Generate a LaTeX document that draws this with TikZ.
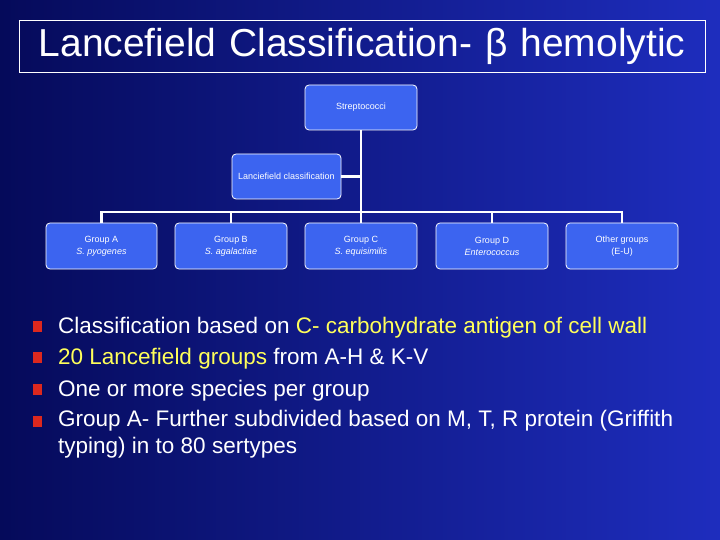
\documentclass[tikz,border=0pt]{standalone}
\usepackage{fontspec}
\setmainfont{Liberation Sans}
\definecolor{bgdark}{RGB}{5,10,90}
\definecolor{bglight}{RGB}{30,45,190}
\definecolor{boxblue}{RGB}{60,100,240}
\definecolor{bulred}{RGB}{220,40,30}
\definecolor{hiyel}{RGB}{255,255,90}
\begin{document}
\begin{tikzpicture}[x=1pt,y=-1pt,
  orgbox/.style={draw=white,line width=0.8pt,fill=boxblue,rounded corners=4pt,text=white,font=\fontsize{9}{12}\selectfont,align=center,inner sep=0pt},
  conn/.style={white,line width=2.6pt},
  btext/.style={anchor=west,text=white,font=\fontsize{22.5}{27}\selectfont,inner sep=0pt,align=left}]
\useasboundingbox (0,0) rectangle (720,540);
\shade[shading angle=60,left color=bgdark,right color=bglight] (0,0) rectangle (720,540);
\node[draw=white,line width=0.6pt,minimum width=686,minimum height=52,text width=686,align=center,inner sep=0pt,text=white,font=\fontsize{39}{40}\selectfont] (title) at (362,46) {\raisebox{-3pt}{Lancefield Classification- β hemolytic}};
\node[orgbox,minimum width=112,minimum height=45] (strep) at (361,107.5) {Streptococci};
\node[orgbox,minimum width=109,minimum height=45] (lance) at (286.5,176.5) {Lanciefield classification};
\node[orgbox,minimum width=111,minimum height=46] (ga) at (101.5,246) {Group A\\\textit{S. pyogenes}};
\node[orgbox,minimum width=112,minimum height=46] (gb) at (231,246) {Group B\\\textit{S. agalactiae}};
\node[orgbox,minimum width=112,minimum height=46] (gc) at (361,246) {Group C\\\textit{S. equisimilis}};
\node[orgbox,minimum width=112,minimum height=46] (gd) at (492,246) {Group D\\\textit{Enterococcus}};
\node[orgbox,minimum width=112,minimum height=46] (go) at (622,246) {Other groups\\(E-U)};
\coordinate (hub) at (361,212);
\coordinate (lj) at (361,176.5);
\draw[conn] (strep.south) -- (hub);
\draw[conn] (lance.east) -- (lj);
\draw[conn] (ga.north) |- (hub) -| (go.north);
\draw[conn] (gb.north) -- (gb.north |- hub);
\draw[conn] (gc.north) -- (hub);
\draw[conn] (gd.north) -- (gd.north |- hub);
\foreach \yy in {327,358,390,422}{\fill[bulred] (33,\yy-6) rectangle (42,\yy+5);}
\node[btext] (b1) at (58,328) {Classification based on \textcolor{hiyel}{C- carbohydrate antigen of cell wall}};
\node[btext] (b2) at (58,359) {\textcolor{hiyel}{20 Lancefield groups} from A-H \& K-V};
\node[btext] (b3) at (58,391) {One or more species per group};
\node[btext,anchor=north west] (b4) at (58,410) {Group A- Further subdivided based on M, T, R protein (Griffith\\typing) in to 80 sertypes};
\end{tikzpicture}
\end{document}
